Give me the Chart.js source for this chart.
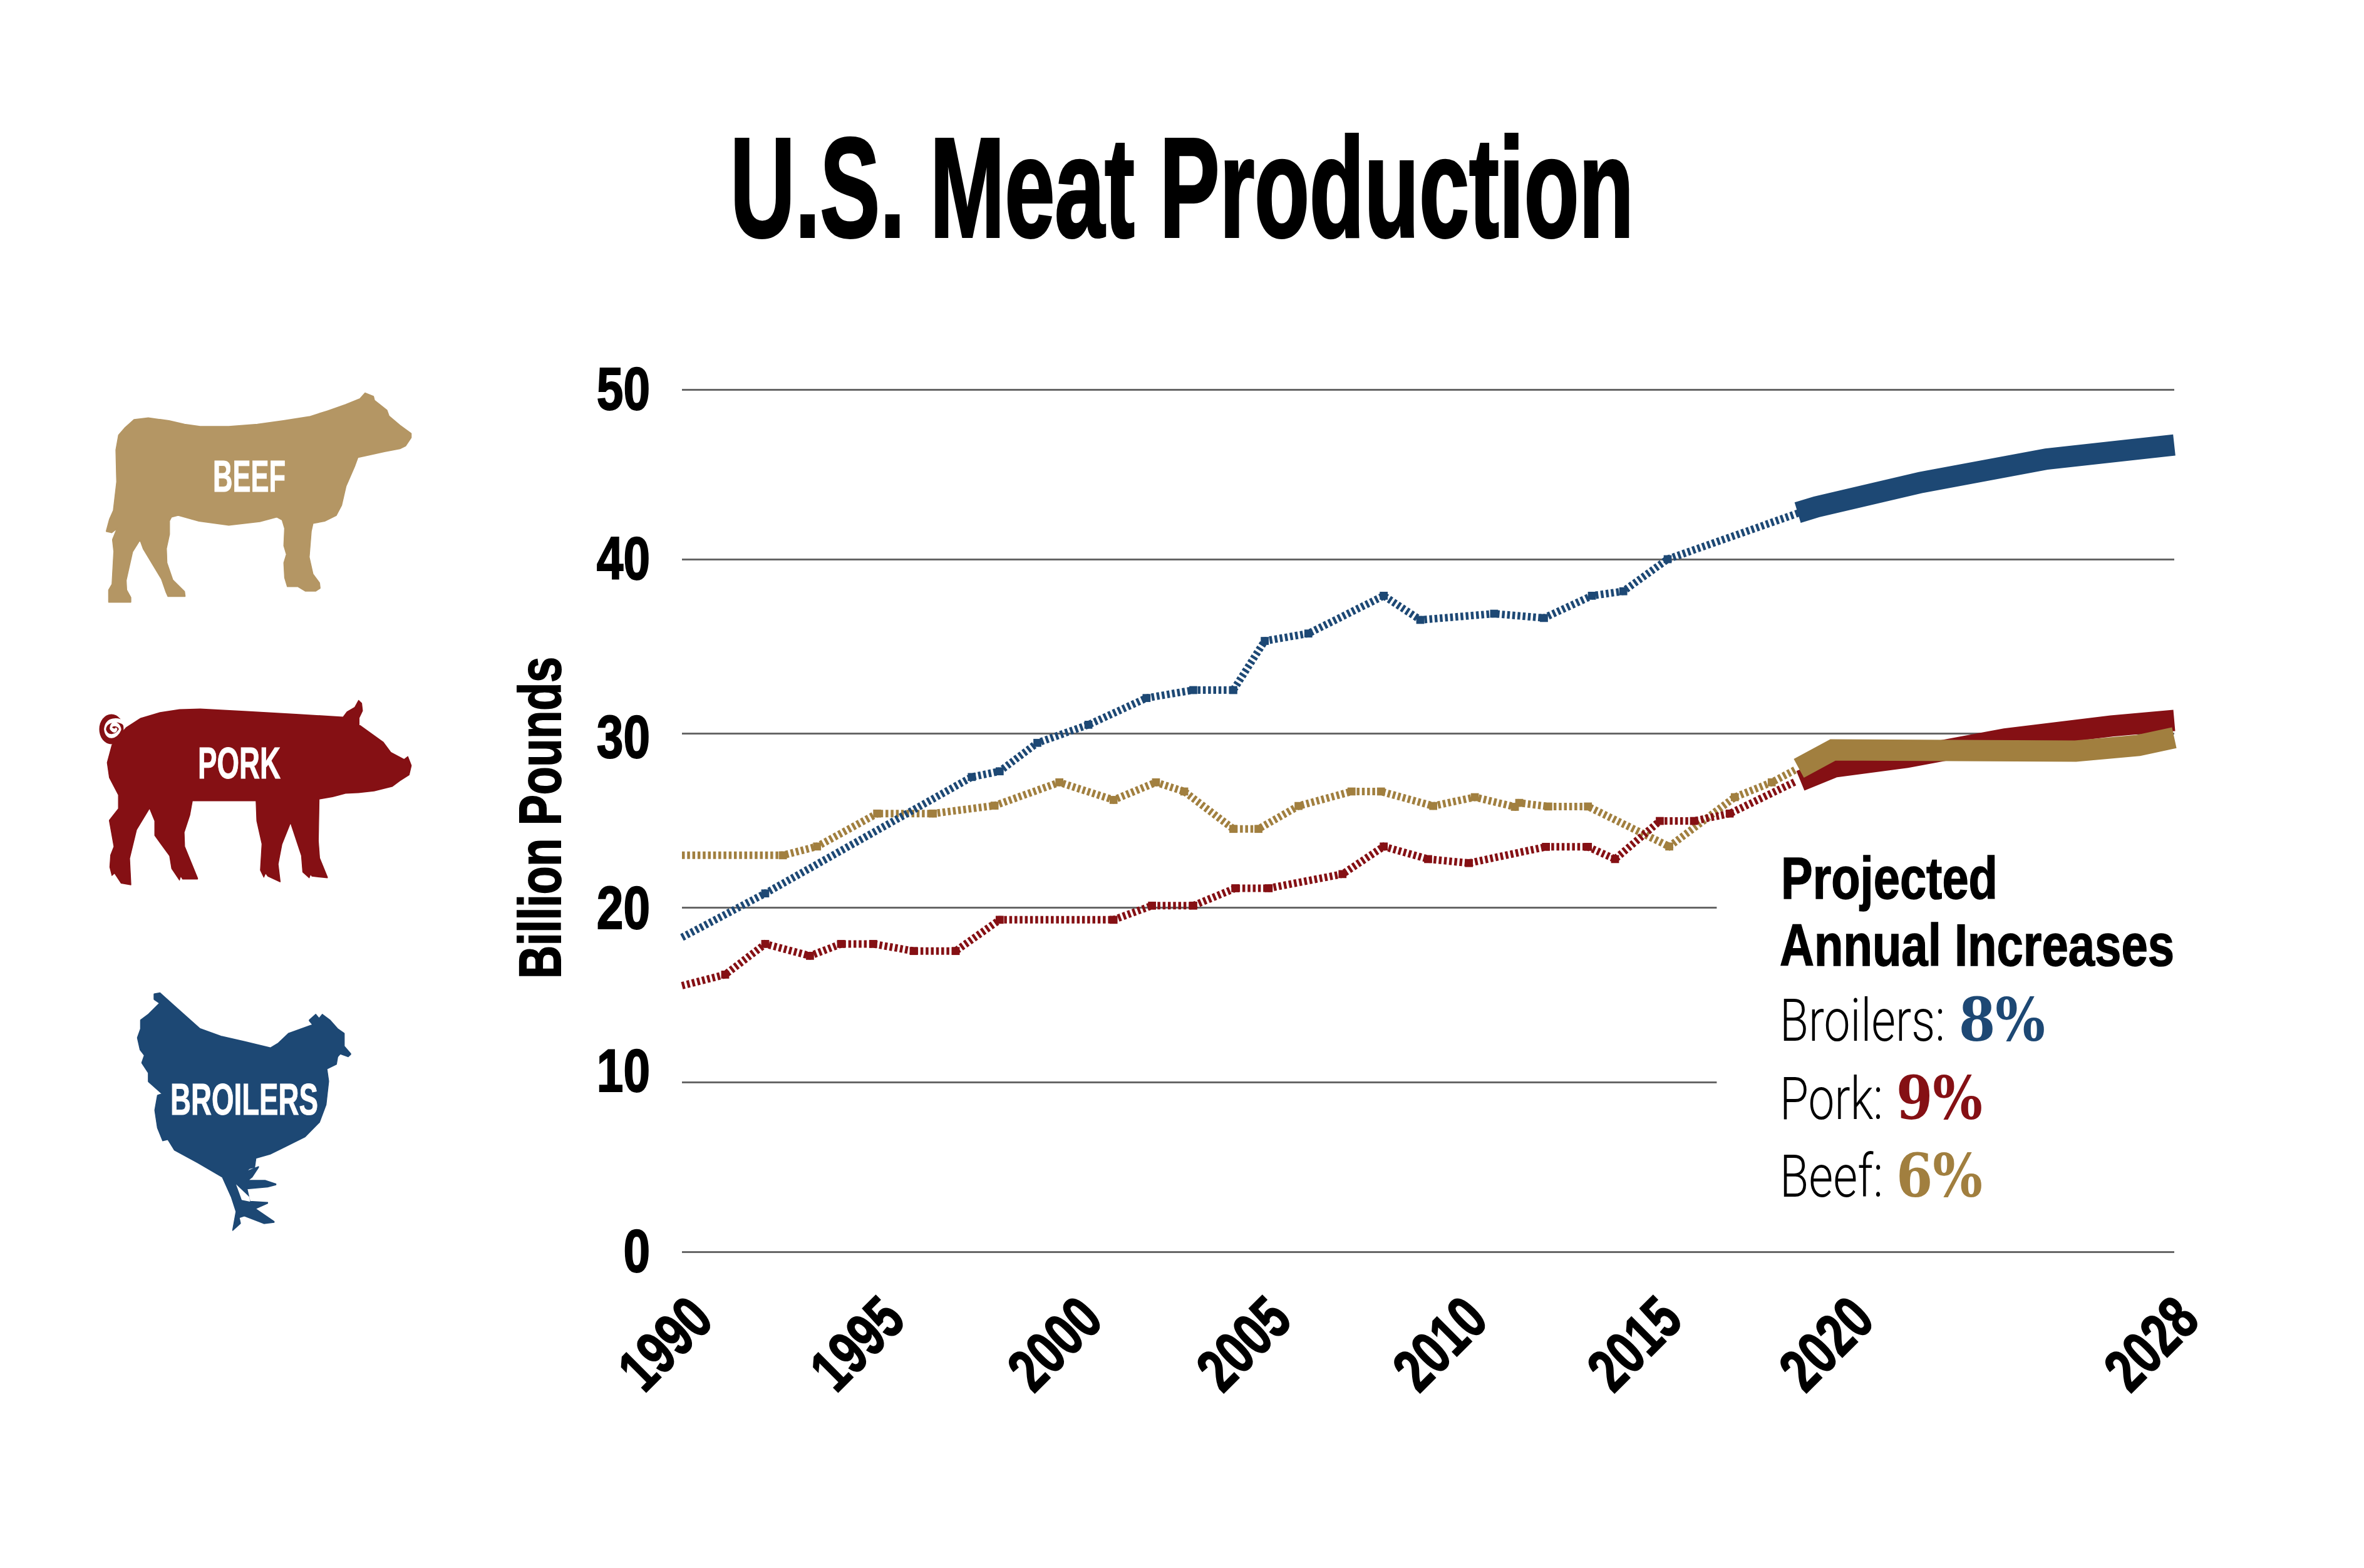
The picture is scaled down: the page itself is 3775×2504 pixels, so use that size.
<!DOCTYPE html>
<html>
<head>
<meta charset="utf-8">
<title>U.S. Meat Production</title>
<script src="https://cdn.jsdelivr.net/npm/chart.js@4/dist/chart.umd.js"></script>
<style>
  html, body { margin: 0; background: #fff; }
  #wrap { position: relative; width: 3775px; height: 2504px; overflow: hidden; }
  #meatChart { display: block; }
  #overlay { position: absolute; left: 0; top: 0; pointer-events: none; }
  #overlay text { font-family: "Liberation Sans", sans-serif; }
  #overlay .b { font-weight: 700; }
  #overlay .thin { font-family: Roboto, "Liberation Sans", sans-serif; font-weight: 300; }
  #overlay .pct { font-family: "DejaVu Serif", serif; font-weight: 700; }
</style>
</head>
<body>
<div id="wrap">
  <canvas id="meatChart" width="3775" height="2504"></canvas>
  <svg id="overlay" width="3775" height="2504" viewBox="0 0 3775 2504">
    <text class="b" x="1166" y="378" font-size="226" stroke="#000" stroke-width="4" textLength="1443" lengthAdjust="spacingAndGlyphs">U.S. Meat Production</text>
    <text class="b" transform="translate(895,1563) rotate(-90)" font-size="95" stroke="#000" stroke-width="2" textLength="514" lengthAdjust="spacingAndGlyphs">Billion Pounds</text>

    <!-- animal icons, traced -->
    <svg x="100" y="580" width="650" height="1450" viewBox="0 0 1568 1568" preserveAspectRatio="none" stroke-width="3" stroke-linejoin="round">
      <path fill="#B49664" stroke="#B49664" d="M1165,52 L1198,58 1202,65 1250,82 1258,92 1300,108 1343,122 1343,128 1322,142 1300,147 1240,152 1180,158 1138,162 1125,178 1092,212 1075,245 1055,262 1010,272 965,276 958,290 950,335 965,365 990,380 992,388 975,393 935,393 905,385 865,385 855,370 852,345 862,330 852,315 855,285 845,270 825,265 760,273 640,279 525,272 445,262 420,265 412,272 412,295 400,320 402,345 425,375 470,395 472,402 405,402 398,395 380,372 310,320 298,305 270,325 245,375 247,392 263,405 263,412 177,412 177,392 190,382 197,325 192,305 210,285 190,292 168,290 180,270 195,255 208,205 205,150 215,125 240,112 275,98 330,95 410,100 470,106 530,110 640,110 750,106 850,100 950,93 1020,83 1090,72 1145,62 Z"/>
      <path fill="#851014" stroke="#851014" d="M1080,612 L1095,603 1125,595 1140,583 1152,588 1155,600 1142,612 1142,625 1235,655 1265,673 1315,685 1330,680 1343,695 1335,710 1300,720 1270,730 1200,738 1140,741 1090,742 1040,748 988,752 985,825 990,855 1020,888 960,885 955,882 950,888 925,878 920,850 878,793 845,830 830,865 838,895 790,885 782,880 775,887 762,875 768,830 748,790 745,755 500,755 490,780 468,810 470,835 520,890 462,890 455,885 450,892 420,872 412,850 355,815 355,790 335,768 285,805 258,855 263,900 225,897 200,880 190,884 182,870 185,850 198,835 180,790 215,770 215,745 180,715 172,690 190,660 210,648 245,630 300,614 375,604 450,599 530,598 700,602 900,607 Z"/>
      <ellipse fill="#851014" cx="188" cy="632" rx="47" ry="26"/>
      <path fill="none" stroke="#fff" stroke-width="7" d="M236,622 C215,614 168,614 163,632 C168,650 210,646 222,632 C215,622 190,620 185,630 C195,636 205,636 208,630"/>
      <path fill="#1D4874" stroke="#1D4874" d="M352,1090 L375,1088 430,1110 530,1150 610,1163 700,1172 800,1183 830,1175 870,1158 950,1145 965,1143 950,1135 975,1125 988,1132 1000,1125 1030,1135 1060,1150 1085,1158 1085,1180 1110,1193 1100,1197 1070,1192 1060,1197 1055,1210 1018,1218 1025,1240 1015,1280 990,1310 935,1335 860,1352 800,1365 745,1372 740,1388 720,1390 700,1398 755,1388 730,1405 710,1412 780,1412 822,1418 790,1422 710,1425 722,1448 790,1450 740,1460 815,1483 775,1485 700,1472 680,1475 685,1485 655,1497 668,1465 650,1440 615,1405 520,1380 430,1358 405,1340 385,1342 365,1320 355,1290 365,1265 385,1262 330,1240 330,1225 305,1208 315,1195 298,1185 288,1165 300,1150 300,1135 330,1125 375,1105 352,1098 Z"/>
      <path fill="#fff" d="M668,1418 L720,1440 722,1448 690,1445 Z"/>
    </svg>
    <text class="b" x="340" y="785" font-size="70" fill="#fff" stroke="#fff" textLength="116" lengthAdjust="spacingAndGlyphs">BEEF</text>
    <text class="b" x="316" y="1243" font-size="70" fill="#fff" stroke="#fff" textLength="132" lengthAdjust="spacingAndGlyphs">PORK</text>
    <text class="b" x="272" y="1780" font-size="70" fill="#fff" stroke="#fff" textLength="236" lengthAdjust="spacingAndGlyphs">BROILERS</text>

    <!-- projected increases note -->
    <text class="b" x="2844" y="1435" font-size="94" stroke="#000" stroke-width="1.5" textLength="346" lengthAdjust="spacingAndGlyphs">Projected</text>
    <text class="b" x="2842" y="1542" font-size="94" stroke="#000" stroke-width="1.5" textLength="630" lengthAdjust="spacingAndGlyphs">Annual Increases</text>
    <text class="thin" x="2842" y="1662" font-size="94" textLength="264" lengthAdjust="spacingAndGlyphs">Broilers:</text>
    <text class="pct" x="3128" y="1662" font-size="96" fill="#1D4874" textLength="138" lengthAdjust="spacingAndGlyphs">8%</text>
    <text class="thin" x="2842" y="1787" font-size="94" textLength="165" lengthAdjust="spacingAndGlyphs">Pork:</text>
    <text class="pct" x="3028" y="1787" font-size="96" fill="#851014" textLength="138" lengthAdjust="spacingAndGlyphs">9%</text>
    <text class="thin" x="2842" y="1911" font-size="94" textLength="165" lengthAdjust="spacingAndGlyphs">Beef:</text>
    <text class="pct" x="3028" y="1911" font-size="96" fill="#A17F3F" textLength="138" lengthAdjust="spacingAndGlyphs">6%</text>
  </svg>
</div>

<script>
const xTickValues = [1990, 1995, 2000, 2005, 2010, 2015, 2020, 2028];
const xTickLabels = ["1990", "1995", "2000", "2005", "2010", "2015", "2020", "2028"];
// the gridlines in the picture are a little uneven, so ticks sit where they were read
const yTickValues = [0, 9.82, 19.95, 30.04, 40.15, 50];
const yTickLabels = ["0", "10", "20", "30", "40", "50"];

// history (dotted)
const broilerYears = [1990, 1992.12, 1997.38, 1998.09, 1999.05, 2000.35, 2001.83, 2003.02, 2004.04, 2004.84, 2005.95, 2007.87, 2008.8, 2010.68, 2011.95, 2013.17, 2013.97, 2015.1, 2018.46];
const broilerValues = [18.23, 20.78, 27.53, 27.86, 29.51, 30.56, 32.11, 32.57, 32.57, 35.42, 35.85, 38.04, 36.64, 37.0, 36.75, 38.04, 38.3, 40.16, 42.86];

const porkYears = [1990, 1991.1, 1992.12, 1993.26, 1994.05, 1994.87, 1995.9, 1996.97, 1998.09, 2000.99, 2001.97, 2003.02, 2004.09, 2004.94, 2006.82, 2007.87, 2009.0, 2010.04, 2012.0, 2013.07, 2013.76, 2014.9, 2015.77, 2016.68, 2018.36];
const porkValues = [15.43, 16.07, 17.85, 17.16, 17.85, 17.85, 17.44, 17.44, 19.25, 19.25, 20.07, 20.07, 21.08, 21.08, 21.9, 23.5, 22.77, 22.54, 23.48, 23.48, 22.77, 24.98, 24.98, 25.41, 27.27];

const beefYears = [1990, 1992.57, 1993.44, 1994.97, 1996.39, 1997.96, 1999.61, 2000.99, 2002.07, 2002.79, 2004.04, 2004.68, 2005.7, 2007.05, 2007.8, 2009.13, 2010.19, 2011.21, 2011.32, 2012.06, 2013.07, 2015.14, 2016.81, 2017.75, 2018.36];
const beefValues = [22.99, 22.99, 23.5, 25.41, 25.41, 25.87, 27.22, 26.2, 27.22, 26.69, 24.52, 24.52, 25.85, 26.69, 26.69, 25.85, 26.36, 25.8, 26.03, 25.82, 25.82, 23.5, 26.36, 27.22, 27.96];

// projections (thick)
const broilerProjYears = [2018.41, 2018.89, 2021.55, 2024.75, 2028];
const broilerProjValues = [42.86, 43.19, 44.61, 45.97, 46.78];
const porkProjYears = [2018.48, 2019.35, 2021.18, 2023.7, 2026.4, 2028];
const porkProjValues = [27.31, 28.12, 28.67, 29.74, 30.49, 30.81];
const beefProjYears = [2018.44, 2019.31, 2025.49, 2027.09, 2028];
const beefProjValues = [28.03, 29.1, 29.03, 29.36, 29.81];

const gridCutYear = 2016.35; // gridlines stop short of the note

const BLUE = "#1D4874";
const RED = "#851014";
const GOLD = "#A17F3F";
const FONT = "'Liberation Sans', sans-serif";

// no condensed face installed, so tick labels get squeezed through fillText's maxWidth
const xSqueeze = 0.75;
const ySqueeze = 0.79;
const xLabelNudge = { 1990: 5, 1995: -2, 2000: 0, 2005: -12, 2010: -12, 2015: -15, 2020: -22, 2028: -5 };
const yLabelNudge = { 0: 5, 10: -12, 20: 7, 30: 12, 40: 5, 50: 5 };

function points(xs, ys) {
  return xs.map((x, i) => ({ x: x, y: ys[i] }));
}

function solid(label, xs, ys, color) {
  return {
    label: label,
    data: points(xs, ys),
    borderColor: color,
    borderWidth: 34,
    borderCapStyle: "butt",
    borderJoinStyle: "miter",
    pointRadius: 0,
    tension: 0,
    clip: false,
  };
}

function dotted(label, xs, ys, color) {
  return {
    label: label,
    data: points(xs, ys),
    borderColor: color,
    backgroundColor: color,
    borderWidth: 12,
    borderDash: [4.5, 3.8],
    borderCapStyle: "butt",
    pointStyle: "rect",
    pointBorderWidth: 0,
    // the blobs only sit on inner vertices
    pointRadius: (c) => (c.dataIndex === 0 || c.dataIndex === xs.length - 1 ? 0 : 9),
    tension: 0,
    clip: false,
  };
}

const noteGap = {
  id: "noteGap",
  beforeDatasetsDraw(chart) {
    const { x, y } = chart.scales;
    const ctx = chart.ctx;
    const left = x.getPixelForValue(gridCutYear);
    const top = y.getPixelForValue(25);
    const bottom = y.getPixelForValue(5);
    ctx.save();
    ctx.fillStyle = "#fff";
    ctx.fillRect(left, top, chart.chartArea.right + 10 - left, bottom - top);
    ctx.restore();
  },
};

const labelTweaks = {
  id: "labelTweaks",
  beforeDraw(chart) {
    const ctx = chart.ctx;
    ctx.save();
    chart.scales.x.getLabelItems().forEach((item) => {
      ctx.font = item.font.string;
      item.options.maxWidth = ctx.measureText(item.label).width * xSqueeze;
      item.options.translation[0] += xLabelNudge[item.label] || 0;
    });
    chart.scales.y.getLabelItems().forEach((item) => {
      ctx.font = item.font.string;
      item.options.maxWidth = ctx.measureText(item.label).width * ySqueeze;
      item.options.translation[1] += yLabelNudge[item.label] || 0;
    });
    ctx.restore();
  },
};

new Chart(document.getElementById("meatChart"), {
  type: "line",
  data: {
    datasets: [
      solid("Beef projected", beefProjYears, beefProjValues, GOLD),
      solid("Pork projected", porkProjYears, porkProjValues, RED),
      solid("Broilers projected", broilerProjYears, broilerProjValues, BLUE),
      dotted("Pork", porkYears, porkValues, RED),
      dotted("Broilers", broilerYears, broilerValues, BLUE),
      dotted("Beef", beefYears, beefValues, GOLD),
    ],
  },
  plugins: [noteGap, labelTweaks],
  options: {
    responsive: false,
    animation: false,
    devicePixelRatio: 1,
    layout: { padding: { left: 812, top: 622, right: 303, bottom: 0 } },
    plugins: { legend: { display: false }, tooltip: { enabled: false } },
    scales: {
      x: {
        type: "linear",
        min: 1990,
        max: 2028,
        afterBuildTicks: (scale) => {
          scale.ticks = xTickValues.map((v) => ({ value: v }));
        },
        afterFit: (scale) => {
          scale.height = 2504 - 1999;
        },
        grid: { display: false },
        border: { display: false },
        ticks: {
          autoSkip: false,
          minRotation: 45,
          maxRotation: 45,
          padding: 45,
          labelOffset: 30,
          color: "#000",
          textStrokeColor: "#000",
          textStrokeWidth: 2,
          font: { family: FONT, weight: "bold", size: 97 },
          callback: (v, i) => xTickLabels[i],
        },
      },
      y: {
        min: 0,
        max: 50,
        afterBuildTicks: (scale) => {
          scale.ticks = yTickValues.map((v) => ({ value: v }));
        },
        afterFit: (scale) => {
          scale.width = 1089 - 812;
        },
        grid: { color: "#666", lineWidth: 3, drawTicks: false },
        border: { display: false },
        ticks: {
          padding: 51,
          color: "#000",
          textStrokeColor: "#000",
          textStrokeWidth: 2,
          font: { family: FONT, weight: "bold", size: 97 },
          callback: (v, i) => yTickLabels[i],
        },
      },
    },
  },
});
</script>
</body>
</html>
